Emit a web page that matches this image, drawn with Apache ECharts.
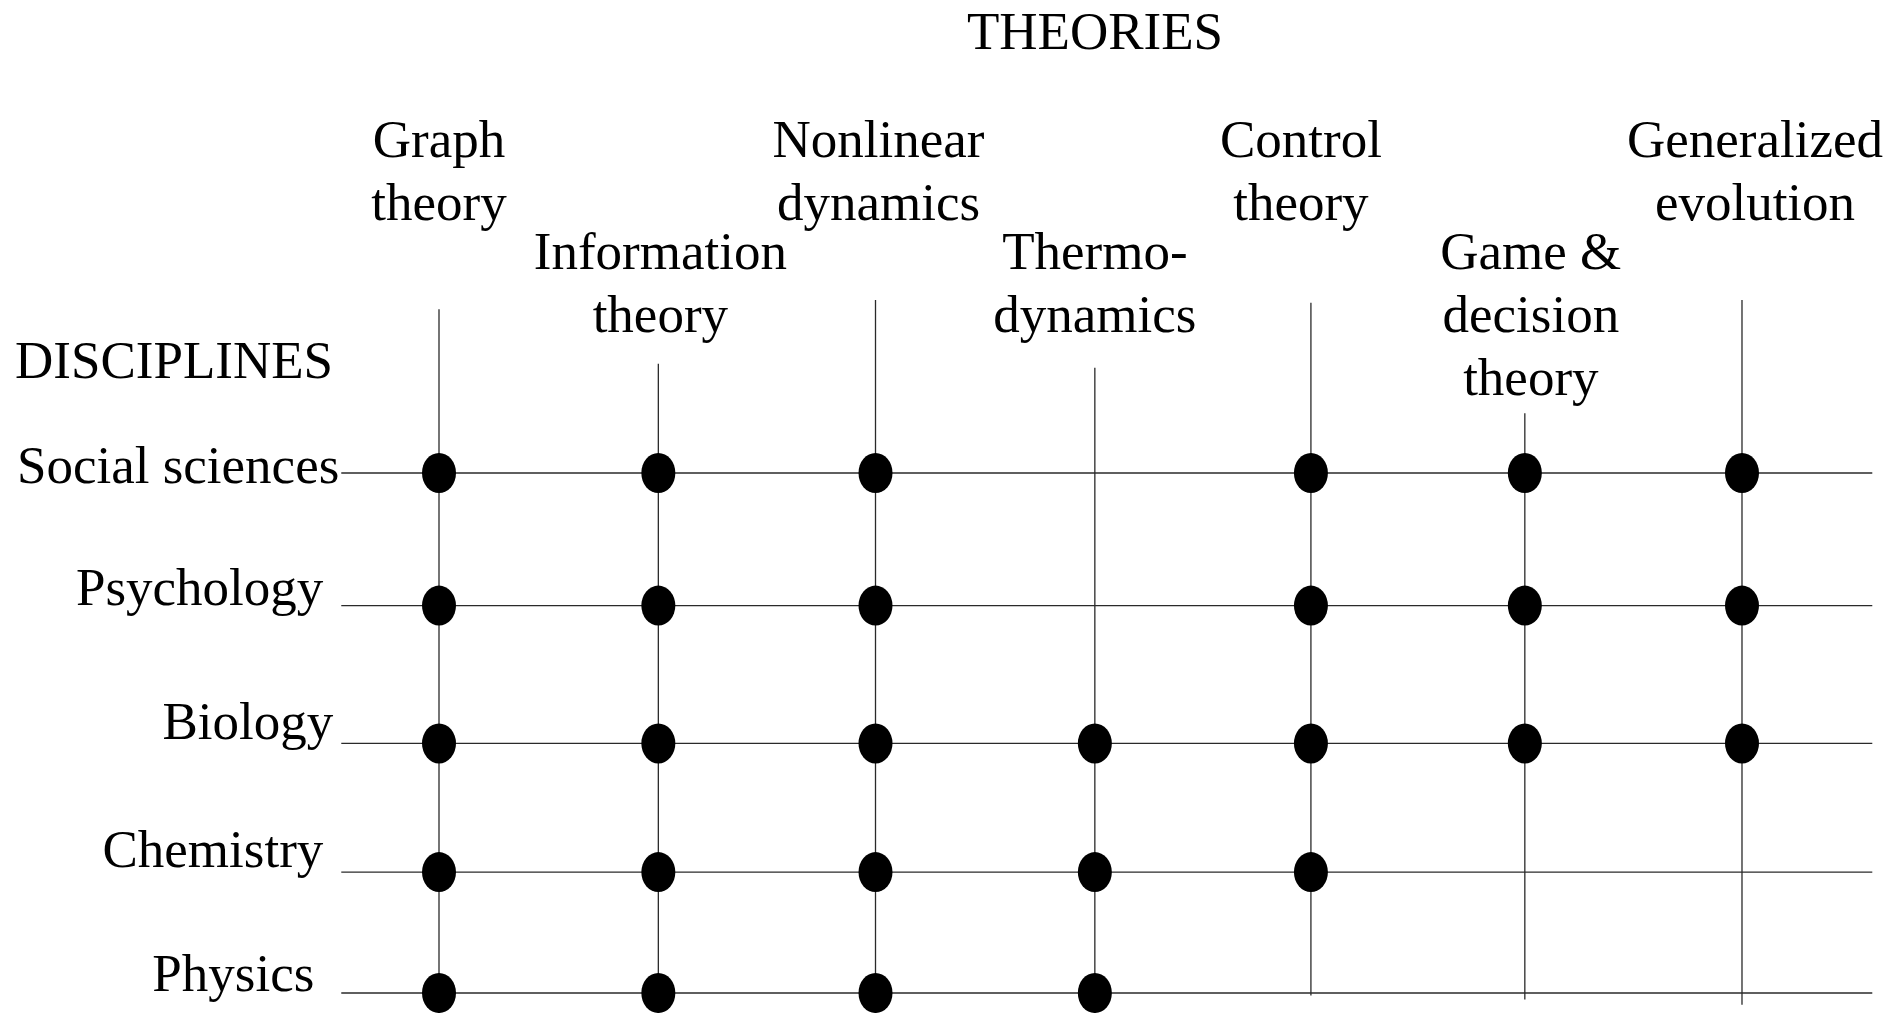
<!DOCTYPE html>
<html>
<head>
<meta charset="utf-8">
<title>Theories and disciplines</title>
<script src="https://cdn.jsdelivr.net/npm/echarts@6/dist/echarts.min.js"></script>
<style>
  html, body { margin: 0; padding: 0; background: #fff; }
  #chart { width: 1903px; height: 1013px; }
</style>
</head>
<body>
<div id="chart"></div>
<script>
// columns (theories) and rows (disciplines)
const theories = ['Graph\ntheory', 'Information\ntheory', 'Nonlinear\ndynamics', 'Thermo-\ndynamics', 'Control\ntheory', 'Game &\ndecision\ntheory', 'Generalized\nevolution']
const disciplines = ['Social sciences', 'Psychology', 'Biology', 'Chemistry', 'Physics']

// column level of each theory line and row level of each discipline line,
// as read off the hand drawn figure (not perfectly even)
const theoryLevel = [0, 1.01, 2.01, 3.02, 4.015, 5.0, 6]
const disciplineLevel = [0, 1.02, 2.08, 3.07, 4]

// where each theory's vertical line starts / ends (row units)
const stemTop = [-1.26, -0.84, -1.33, -0.81, -1.31, -0.46, -1.33]
const stemBottom = [4.2, 4.2, 4.2, 4.2, 4.02, 4.05, 4.09]

// 1 = the theory is used in that discipline
const socialSciences = [1, 1, 1, 0, 1, 1, 1]
const psychology = [1, 1, 1, 0, 1, 1, 1]
const biology = [1, 1, 1, 1, 1, 1, 1]
const chemistry = [1, 1, 1, 1, 1, 0, 0]
const physics = [1, 1, 1, 1, 0, 0, 0]

// horizontal extent of the discipline lines (theory units)
const rowLineFrom = -0.45
const rowLineTo = 6.6

// layout of the text, fitted to the drawing
const FONT = "'Liberation Serif', 'Times New Roman', serif"
const labelRow = [0, 1, 0, 1, 0, 1, 0] // upper / lower row of theory names
const labelRowTop = [-2.78, -1.915]
const theoryNudge = [0, 2, 3, 0, -10, 6, 13]
const rowLabelNudge = [[0, -4], [-16, -15], [-6, -18], [-16, -19], [-25, -16]]

const matrix = [socialSciences, psychology, biology, chemistry, physics]

const chart = echarts.init(document.getElementById('chart'))

const lineStyle = { color: '#2a2a2a', width: 1.3 }

const series = []

// vertical lines, one per theory
theories.forEach((t, i) => {
  series.push({
    type: 'line',
    data: [[theoryLevel[i], stemTop[i]], [theoryLevel[i], stemBottom[i]]],
    symbol: 'none',
    clip: false,
    silent: true,
    lineStyle: lineStyle,
    z: 1
  })
})

// horizontal lines, one per discipline
disciplines.forEach((d, j) => {
  series.push({
    type: 'line',
    data: [[rowLineFrom, disciplineLevel[j]], [rowLineTo, disciplineLevel[j]]],
    symbol: 'none',
    clip: false,
    silent: true,
    lineStyle: lineStyle,
    z: 1
  })
})

// dots where a theory meets a discipline
const dots = []
matrix.forEach((row, j) => {
  row.forEach((v, i) => {
    if (v) dots.push([theoryLevel[i], disciplineLevel[j]])
  })
})
series.push({
  type: 'scatter',
  data: dots,
  symbol: 'circle',
  symbolSize: [34, 40],
  clip: false,
  itemStyle: { color: '#000', opacity: 1 },
  z: 3
})

// theory names above the columns
series.push({
  type: 'scatter',
  symbolSize: 0,
  clip: false,
  silent: true,
  itemStyle: { opacity: 1 },
  data: theories.map((t, i) => ({
    value: [theoryLevel[i], labelRowTop[labelRow[i]]],
    label: { offset: [theoryNudge[i], 0] }
  })),
  label: {
    show: true,
    position: 'bottom',
    distance: 0,
    align: 'center',
    formatter: (p) => theories[p.dataIndex],
    fontFamily: FONT,
    fontSize: 53,
    lineHeight: 63,
    color: '#000',
    opacity: 1
  },
  z: 2
})

// discipline names left of the rows
series.push({
  type: 'scatter',
  symbolSize: 0,
  clip: false,
  silent: true,
  itemStyle: { opacity: 1 },
  data: disciplines.map((d, j) => ({
    value: [rowLineFrom, disciplineLevel[j]],
    label: { offset: rowLabelNudge[j] }
  })),
  label: {
    show: true,
    position: 'left',
    distance: 2,
    formatter: (p) => disciplines[p.dataIndex],
    fontFamily: FONT,
    fontSize: 53,
    lineHeight: 63,
    color: '#000',
    opacity: 1
  },
  z: 2
})

// the grid spans the whole canvas; axis ranges are set so that
// theory 0..6 falls on x 439..1742 px and row 0..4 on y 473..993 px
chart.setOption({
  animation: false,
  backgroundColor: '#fff',
  grid: { left: 0, right: 0, top: 0, bottom: 0 },
  xAxis: { type: 'value', min: -2.0215, max: 6.7414, show: false },
  yAxis: { type: 'value', min: -3.6385, max: 4.1538, inverse: true, show: false },
  graphic: [
    {
      type: 'text',
      x: 1095,
      y: 35,
      style: {
        text: 'THEORIES',
        font: '53px ' + FONT,
        fill: '#000',
        align: 'center',
        verticalAlign: 'middle'
      }
    },
    {
      type: 'text',
      x: 15,
      y: 364,
      style: {
        text: 'DISCIPLINES',
        font: '53px ' + FONT,
        fill: '#000',
        align: 'left',
        verticalAlign: 'middle'
      }
    }
  ],
  series: series
})
</script>
</body>
</html>
